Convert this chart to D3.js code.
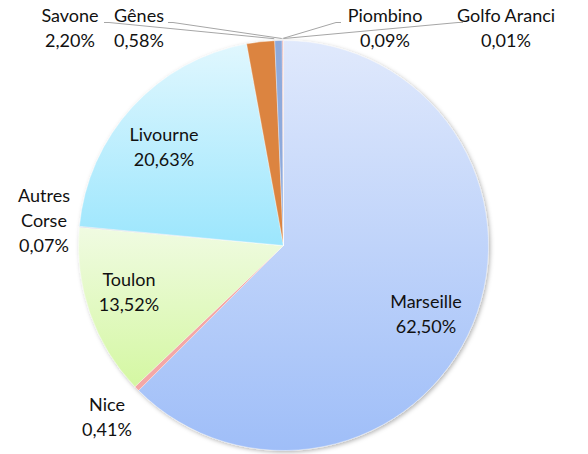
<!DOCTYPE html>
<html lang="fr">
<head>
	<meta charset="UTF-8">
	<title>Ports - parts</title>
	<script src="https://cdn.jsdelivr.net/npm/d3@7/dist/d3.min.js"></script>
	<style>
		body { margin: 0; background: #fff; }
		svg text { font-family: Lato, "Open Sans", sans-serif; font-size: 18px; fill: #111; }
	</style>
</head>
<body>
	<div id="container"></div>
	<script>

		// data, clockwise from 12 o'clock
		var ports = ["Marseille", "Nice", "Toulon", "Autres Corse", "Livourne", "Savone", "Gênes", "Piombino", "Golfo Aranci"];
		var shares = [62.50, 0.41, 13.52, 0.07, 20.63, 2.20, 0.58, 0.09, 0.01];

		// fills: [top, bottom] of each slice's gradient
		var fills = [
			["#e0e9fc", "#9fbef8"],
			["#f4a7a7", "#f4a7a7"],
			["#f0fbe2", "#d4f7a2"],
			["#c9d3de", "#c9d3de"],
			["#e0f7fe", "#9ce6fd"],
			["#dc8440", "#dc8440"],
			["#8eaadc", "#8eaadc"],
			["#e8a0a0", "#e8a0a0"],
			["#b0b0b0", "#b0b0b0"]
		];

		// label placement (first baseline), and which side a leader goes to
		var labelAt = {
			"Marseille":    { x: 426, y: 308 },
			"Livourne":     { x: 164, y: 141 },
			"Toulon":       { x: 129, y: 286 },
			"Nice":         { x: 107, y: 411 },
			"Autres Corse": { x: 44,  y: 202, split: true },
			"Savone":       { x: 70,  y: 22, lead: [104, "end"] },
			"Gênes":        { x: 139, y: 22, lead: [168, "end"] },
			"Piombino":     { x: 385, y: 22, lead: [341, "start"] },
			"Golfo Aranci": { x: 506, y: 22, lead: [463, "start"] }
		};

		var width = 588;
		var height = 454;
		var cx = 283.5, cy = 245.5, radius = 205;

		var fmt = d3.formatLocale({ decimal: ",", thousands: " ", grouping: [3], currency: ["", " €"] }).format(".2f");

		var svg = d3.select("#container").append("svg")
				.attr("width", width)
				.attr("height", height);

		var defs = svg.append("defs");
		var shadow = defs.append("filter").attr("id", "shadow")
				.attr("x", "-10%").attr("y", "-10%").attr("width", "120%").attr("height", "120%");
		shadow.append("feDropShadow")
				.attr("dx", 1.5).attr("dy", 1.5)
				.attr("stdDeviation", 2)
				.attr("flood-color", "#000")
				.attr("flood-opacity", 0.3);

		fills.forEach(function(f, i){
			var g = defs.append("linearGradient").attr("id", "grad" + i)
					.attr("x1", 0).attr("y1", 0).attr("x2", 0).attr("y2", 1);
			g.append("stop").attr("offset", "0%").attr("stop-color", f[0]);
			g.append("stop").attr("offset", "100%").attr("stop-color", f[1]);
		});

		var pie = d3.pie().sort(null).value(function(d){ return d; });
		var arcs = pie(shares);
		var arc = d3.arc().innerRadius(0).outerRadius(radius);

		var g = svg.append("g").attr("transform", "translate(" + cx + "," + cy + ")");

		g.append("g").attr("filter", "url(#shadow)")
			.selectAll("path")
			.data(arcs)
			.enter().append("path")
				.attr("d", arc)
				.attr("fill", function(d, i){ return "url(#grad" + i + ")"; })
				.attr("stroke", "#ffffff")
				.attr("stroke-opacity", 0.6)
				.attr("stroke-width", 0.6);

		// leader lines for the tiny slices at the top
		function edgePoint(a, r) {
			return [cx + r * Math.sin(a), cy - r * Math.cos(a)];
		}

		arcs.forEach(function(d, i){
			var lab = labelAt[ports[i]];
			if (!lab.lead) return;
			var a = lab.lead[1] === "end" ? d.endAngle - 0.002 : d.startAngle + 0.002;
			var p = edgePoint(a, radius + 2);
			var x0 = lab.lead[0];
			var x1 = lab.lead[1] === "end" ? x0 + 5 : x0 - 5;
			svg.append("polyline")
				.attr("points", [[x0, 22.5], [x1, 22.5], p].map(function(q){ return q.join(","); }).join(" "))
				.attr("fill", "none")
				.attr("stroke", "#a6a6a6")
				.attr("stroke-width", 1);
		});

		// labels
		ports.forEach(function(name, i){
			var lab = labelAt[name];
			var lines = lab.split ? name.split(" ") : [name];
			lines.push(fmt(shares[i]) + "%");
			var t = svg.append("text")
					.attr("text-anchor", "middle")
					.attr("x", lab.x)
					.attr("y", lab.y);
			lines.forEach(function(s, k){
				t.append("tspan")
					.attr("x", lab.x)
					.attr("dy", k === 0 ? 0 : 25)
					.text(s);
			});
		});

	</script>
</body>
</html>
